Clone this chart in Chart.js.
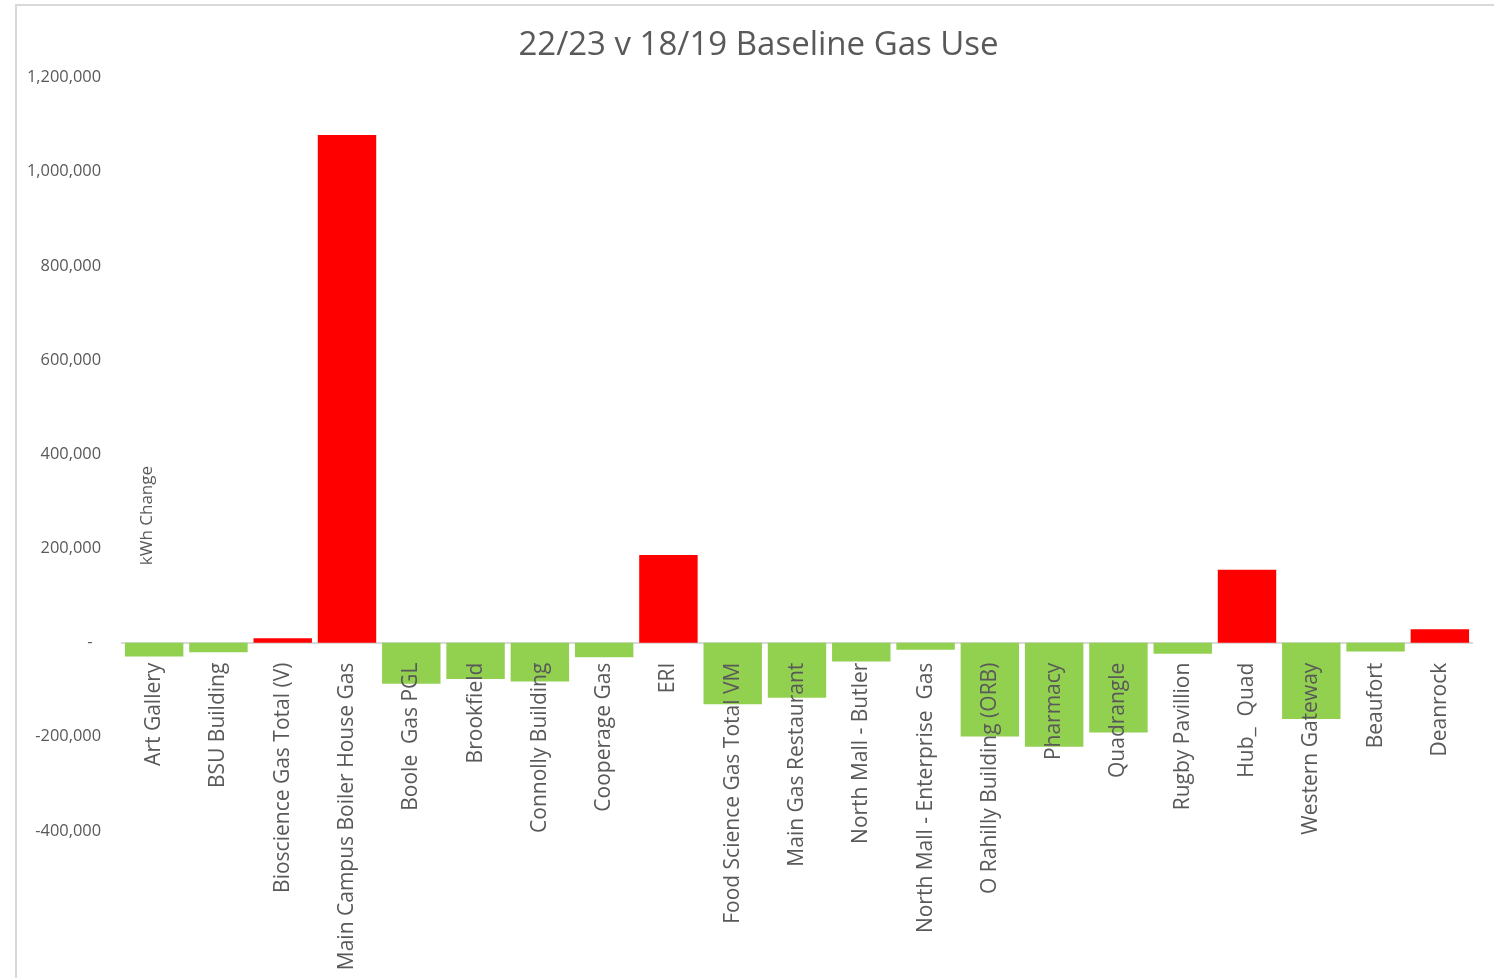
<!DOCTYPE html>
<html lang="en">
<head>
  <meta charset="UTF-8" />
  <title>22/23 v 18/19 Baseline Gas Use</title>
  <script src="https://cdn.jsdelivr.net/npm/chart.js@4.4.1/dist/chart.umd.min.js"></script>
  <style>
    html, body { margin: 0; padding: 0; background: #fff; overflow: hidden; }
    #frame { position: absolute; left: 15px; top: 4px; width: 1700px; height: 1200px; border: 2px solid #d9d9d9; }
    #wrap { position: absolute; left: 0; top: 0; width: 1494px; height: 978px; }
  </style>
</head>
<body>
<div id="frame"></div>
<div id="wrap"><canvas id="gas"></canvas></div>
<script>
  const buildings = [
    "Art Gallery", "BSU Building", "Bioscience Gas Total (V)", "Main Campus Boiler House Gas",
    "Boole  Gas PGL", "Brookfield", "Connolly Building", "Cooperage Gas", "ERI",
    "Food Science Gas Total VM", "Main Gas Restaurant", "North Mall - Butler",
    "North Mall - Enterprise  Gas", "O Rahilly Building (ORB)", "Pharmacy", "Quadrangle",
    "Rugby Pavillion", "Hub_  Quad", "Western Gateway", "Beaufort", "Deanrock"
  ];
  const kwhChange = [
    -29500, -20500, 9500, 1078000,
    -87500, -77000, -82500, -31000, 186000,
    -131000, -117000, -40000,
    -15000, -199500, -221000, -191000,
    -23500, 155000, -162000, -19000, 28500
  ];
  const yMin = -400000;
  const yMax = 1200000;
  const yStep = 200000;

  const textGrey = "#595959";

  // Excel drops the axis title inside the plot, next to the first bar
  const axisNote = {
    id: "axisNote",
    afterDraw(chart) {
      const { ctx, chartArea } = chart;
      ctx.save();
      ctx.translate(chartArea.left + 25, chartArea.top + 438);
      ctx.rotate(-Math.PI / 2);
      ctx.font = "17px 'Open Sans'";
      ctx.fillStyle = textGrey;
      ctx.textAlign = "center";
      ctx.textBaseline = "middle";
      ctx.fillText("kWh Change", 0, 0);
      ctx.restore();
    }
  };

  new Chart(document.getElementById("gas"), {
    type: "bar",
    data: {
      labels: buildings,
      datasets: [{
        data: kwhChange,
        backgroundColor: (c) => (c.raw >= 0 ? "#ff0000" : "#92d050"),
        barPercentage: 0.909,
        categoryPercentage: 1.0
      }]
    },
    options: {
      responsive: true,
      maintainAspectRatio: false,
      animation: false,
      devicePixelRatio: 1,
      layout: { padding: { top: 0, left: 27, right: 4, bottom: 147 } },
      plugins: {
        legend: { display: false },
        tooltip: { enabled: false },
        title: {
          display: true,
          text: "22/23 v 18/19 Baseline Gas Use",
          color: textGrey,
          font: { family: "'Open Sans'", size: 33, weight: "normal" },
          padding: { top: 26, bottom: 12 }
        }
      },
      scales: {
        x: {
          position: { y: 0 },
          grid: { display: true, drawOnChartArea: false, drawTicks: false },
          border: { display: true, color: "#d9d9d9", width: 2 },
          afterFit: (s) => { s.paddingLeft = 0; s.paddingRight = 22; },
          ticks: {
            z: 1,
            autoSkip: false,
            minRotation: 90,
            maxRotation: 90,
            padding: 20,
            color: textGrey,
            font: { family: "'Open Sans'", size: 21 }
          }
        },
        y: {
          min: yMin,
          max: yMax,
          grid: { display: false },
          border: { display: false },
          afterFit: (s) => { s.width = 95; },
          ticks: {
            stepSize: yStep,
            padding: 13,
            color: textGrey,
            font: { family: "'Open Sans'", size: 16.4 },
            callback: (v) => (v === 0 ? "-  " : v.toLocaleString("en-US"))
          }
        }
      }
    },
    plugins: [axisNote]
  });
</script>
</body>
</html>
